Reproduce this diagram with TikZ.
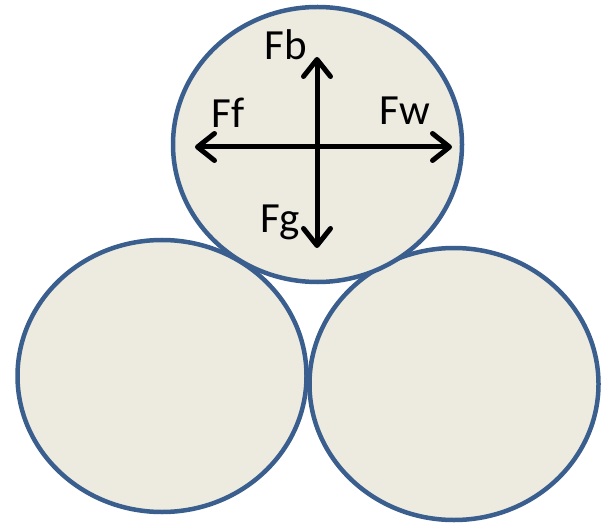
\documentclass[tikz,border=0pt]{standalone}
\usepackage{fontspec}
\setmainfont{Carlito}
\usetikzlibrary{positioning,arrows.meta,shapes.geometric}
\definecolor{ballfill}{HTML}{EDEBE0}
\definecolor{balledge}{HTML}{3A5F8E}

\begin{document}
\begin{tikzpicture}[x=1pt, y=-1pt,
        ball/.style={draw=balledge, fill=ballfill, line width=4.5pt, ellipse,
                     inner sep=0pt, minimum width=289pt, minimum height=272pt},
        force/.style={line width=5pt, -{Straight Barb[length=17pt, width=27pt, line cap=round, line join=round]}},
        lbl/.style={anchor=base, inner sep=0pt, font=\fontsize{43}{46}\selectfont}]
    \useasboundingbox (0,0) rectangle (601,526);

    % bottom row
    \node[ball] (left) at (162,376) {};
    \node[ball] (right) at (454,384) {};
    % top ball with forces
    \node[ball, minimum height=275pt] (top) at (317.5,144.5) {};

    \coordinate (c) at (317,147);
    \coordinate (up) at (317,57);
    \coordinate (down) at (317,248);
    \coordinate (west) at (195,147);
    \coordinate (east) at (452,147);

    \draw[force] (c)--(up);
    \draw[force] (c)--(down);
    \draw[force] (c)--(west);
    \draw[force] (c)--(east);

    \node[lbl] (fb) at (286,60) {Fb};
    \node[lbl] (ff) at (228,128) {Ff};
    \node[lbl] (fw) at (405,125) {Fw};
    \node[lbl] (fg) at (280,233) {Fg};
\end{tikzpicture}
\end{document}
